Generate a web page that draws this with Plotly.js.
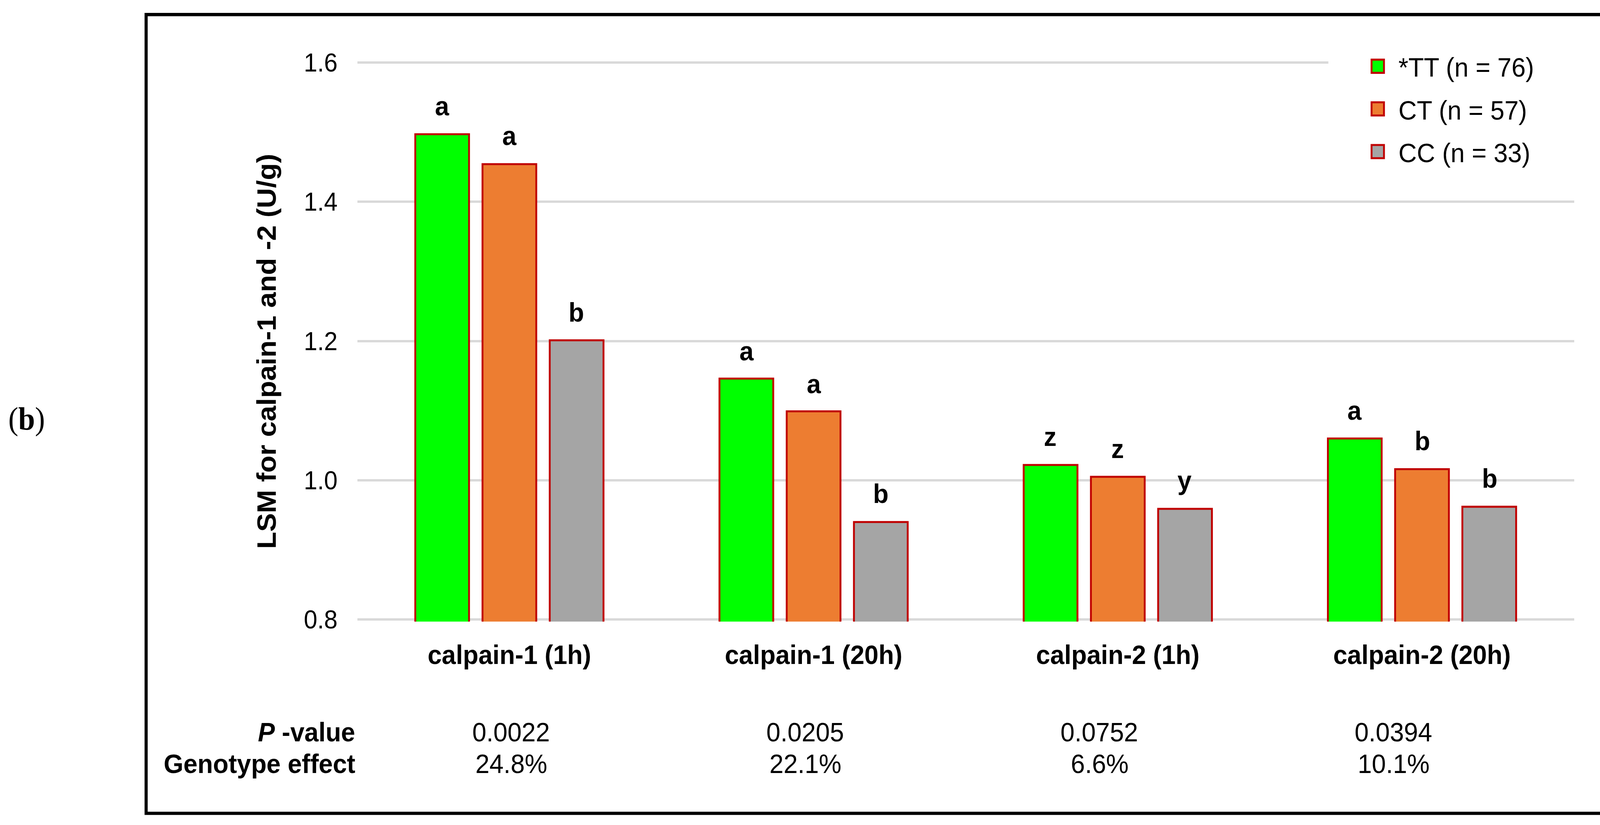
<!DOCTYPE html>
<html>
<head>
<meta charset="utf-8">
<script src="https://cdn.plot.ly/plotly-3.0.1.min.js"></script>
<style>
  html, body { margin: 0; padding: 0; background: #ffffff; overflow: hidden; }
  #chart { position: absolute; left: 0; top: 0; transform-origin: 0 0; }
</style>
</head>
<body>
<div id="chart"></div>
<script>
// ---------------- data ----------------
const categories = ['calpain-1 (1h)', 'calpain-1 (20h)', 'calpain-2 (1h)', 'calpain-2 (20h)'];
const seriesNames = ['*TT (n = 76)', 'CT (n = 57)', 'CC (n = 33)'];
const ttValues = [1.497, 1.146, 1.022, 1.060];
const ctValues = [1.454, 1.099, 1.005, 1.016];
const ccValues = [1.201, 0.940, 0.959, 0.962];
const ttLetters = ['a', 'a', 'z', 'a'];
const ctLetters = ['a', 'a', 'z', 'b'];
const ccLetters = ['b', 'b', 'y', 'b'];
const pValues = ['0.0022', '0.0205', '0.0752', '0.0394'];
const genotypeEffect = ['24.8%', '22.1%', '6.6%', '10.1%'];
const yTickValues = [0.8, 1.0, 1.2, 1.4, 1.6];
const yTickLabels = ['0.8', '1.0', '1.2', '1.4', '1.6'];
const yTitle = 'LSM for calpain-1 and -2 (U/g)';

// ---------------- geometry & styles (base units, scaled to 4157x2111 by CSS) ----------------
const seriesColors = ['#00ff00', '#ed7d31', '#a5a5a5'];
const borderColor = '#c00000';
const FONT = 'Liberation Sans, Arial, sans-serif';
const FS = 24.5;
const BARGAP = 0.337;

const W0 = 1568;
const SX = 4157 / W0;
const SY = SX * 1.06;
const H0 = 2111 / SY;

const Y_MIN = 0.8, Y_MAX = 1.6;
const GRID_TOP = 57, GRID_BOTTOM = 564;          // pixel rows of the 1.6 and 0.8 grid lines
const PLOT_LEFT = 345, PLOT_W = 1175;
const EPS = 0.003;                               // keeps the end grid lines inside the plot
const pxPerUnit = (GRID_BOTTOM - GRID_TOP) / (Y_MAX - Y_MIN);
const PLOT_TOP = GRID_TOP - EPS * pxPerUnit;
const PLOT_BOTTOM = GRID_BOTTOM + EPS * pxPerUnit;
const PLOT_H = PLOT_BOTTOM - PLOT_TOP;
const px = x => (x - PLOT_LEFT) / PLOT_W;
const py = y => (PLOT_BOTTOM - y) / PLOT_H;

const tableX = [493, 777.5, 1061.5, 1345.5];     // column centres of the table

const seriesValues = [ttValues, ctValues, ccValues];
const seriesLetters = [ttLetters, ctLetters, ccLetters];

const traces = seriesValues.map((vals, k) => ({
  type: 'bar',
  name: seriesNames[k],
  legendgroup: 'g' + k,
  x: categories,
  y: vals,
  marker: { color: seriesColors[k], line: { color: borderColor, width: 1.8 } },
  hoverinfo: 'skip'
}));

const annotations = [];
const slot = (1 - BARGAP) / 3;
seriesLetters.forEach((letters, k) => {
  letters.forEach((t, i) => {
    annotations.push({
      xref: 'x', yref: 'y', x: i + (k - 1) * slot, y: seriesValues[k][i],
      text: t, showarrow: false, xanchor: 'center', yanchor: 'bottom', yshift: 10,
      font: { family: FONT, size: FS, color: '#000', weight: 'bold' }
    });
  });
});

// y axis title
annotations.push({
  xref: 'paper', yref: 'paper', x: px(257), y: py(319.8), xanchor: 'center', yanchor: 'middle',
  text: yTitle, textangle: -90, showarrow: false,
  font: { family: FONT, size: 25.5, color: '#000', weight: 'bold' }
});

// bottom table
const ROW1 = 666.1, ROW2 = 695.3;
annotations.push({
  xref: 'paper', yref: 'paper', x: px(345), y: py(ROW1), xanchor: 'right', yanchor: 'middle',
  text: '<i>P</i> -value', showarrow: false,
  font: { family: FONT, size: FS, color: '#000', weight: 'bold' }
});
annotations.push({
  xref: 'paper', yref: 'paper', x: px(345), y: py(ROW2), xanchor: 'right', yanchor: 'middle',
  text: 'Genotype effect', showarrow: false,
  font: { family: FONT, size: FS, color: '#000', weight: 'bold' }
});
pValues.forEach((p, i) => {
  annotations.push({
    xref: 'paper', yref: 'paper', x: px(tableX[i]), y: py(ROW1), xanchor: 'center', yanchor: 'middle',
    text: p, showarrow: false, font: { family: FONT, size: FS, color: '#000' }
  });
  annotations.push({
    xref: 'paper', yref: 'paper', x: px(tableX[i]), y: py(ROW2), xanchor: 'center', yanchor: 'middle',
    text: genotypeEffect[i], showarrow: false, font: { family: FONT, size: FS, color: '#000' }
  });
});

// panel label
annotations.push({
  xref: 'paper', yref: 'paper', x: px(25.3), y: py(381.5), xanchor: 'center', yanchor: 'middle',
  text: '(<b>b</b>)', showarrow: false,
  font: { family: 'Liberation Serif, Times New Roman, serif', size: 29, color: '#000' }
});

const layout = {
  width: W0,
  height: H0,
  autosize: false,
  margin: { l: PLOT_LEFT, r: W0 - PLOT_LEFT - PLOT_W, t: PLOT_TOP, b: H0 - PLOT_BOTTOM },
  paper_bgcolor: '#ffffff',
  plot_bgcolor: '#ffffff',
  barmode: 'group',
  bargap: BARGAP,
  bargroupgap: 0.2,
  showlegend: true,
  legend: {
    x: px(1310.4), y: py(38.0), xanchor: 'left', yanchor: 'top',
    bgcolor: 'rgba(255,255,255,0)',
    font: { family: FONT, size: FS, color: '#000' },
    traceorder: 'grouped',
    tracegroupgap: 4
  },
  xaxis: {
    type: 'category',
    showgrid: false,
    zeroline: false,
    showline: false,
    ticks: '',
    ticklabelstandoff: 13,
    tickfont: { family: FONT, size: FS, color: '#000', weight: 'bold' },
    fixedrange: true
  },
  yaxis: {
    range: [Y_MIN - EPS, Y_MAX + EPS],
    tickvals: yTickValues,
    ticktext: yTickLabels,
    showgrid: true,
    gridcolor: '#d9d9d9',
    gridwidth: 2.1,
    zeroline: false,
    showline: false,
    ticks: '',
    ticklabelstandoff: 18,
    tickfont: { family: FONT, size: 23.5, color: '#000' },
    fixedrange: true
  },
  annotations: annotations,
  shapes: [
    { type: 'rect', xref: 'paper', yref: 'paper', x0: px(1282.7), x1: 1.01, y0: py(69.7), y1: py(44.3),
      fillcolor: '#ffffff', line: { width: 0 }, layer: 'above' },
    { type: 'rect', xref: 'paper', yref: 'paper', x0: px(141.1), x1: px(1554.1), y0: py(740.4), y1: py(13.4),
      fillcolor: 'rgba(0,0,0,0)', line: { color: '#000000', width: 3 }, layer: 'above' }
  ]
};

Plotly.newPlot('chart', traces, layout, { staticPlot: true, displayModeBar: false }).then(() => {
  document.getElementById('chart').style.transform = 'scale(' + SX + ',' + SY + ')';
});
</script>
</body>
</html>
